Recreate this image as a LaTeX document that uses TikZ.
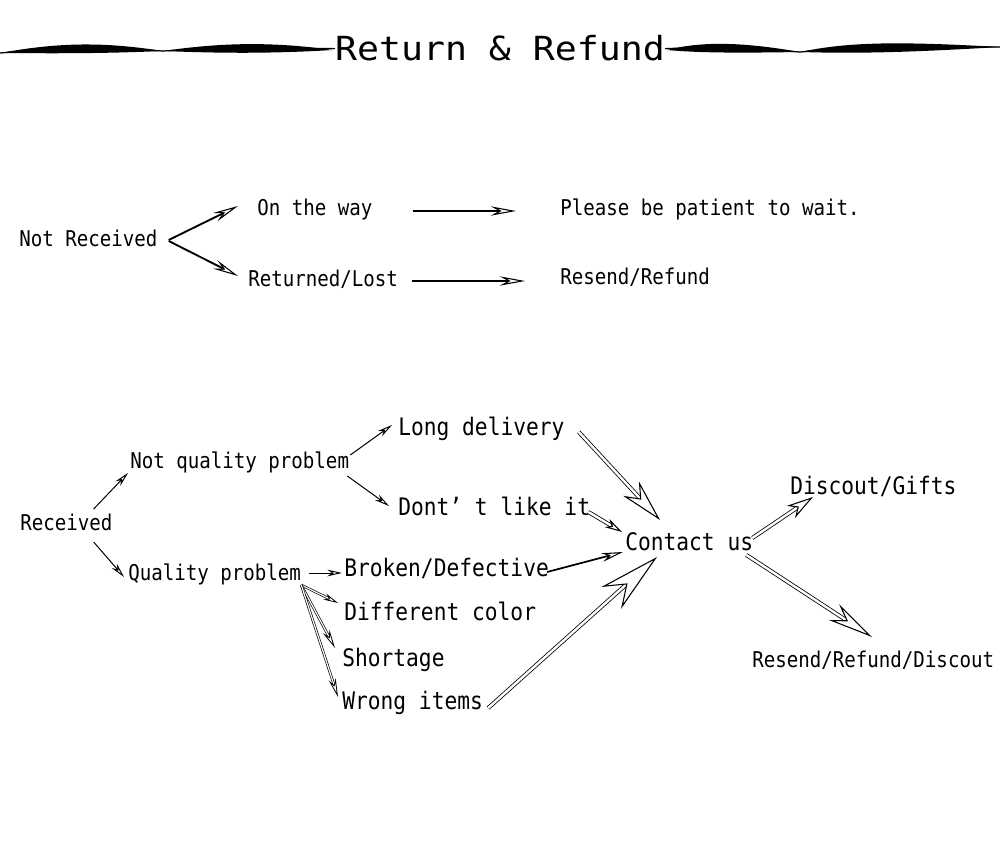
\documentclass[tikz,border=0pt]{standalone}
\usepackage{fontspec}
\usetikzlibrary{arrows.meta,calc}
\newfontfamily\monof[FakeStretch=0.88]{DejaVu Sans Mono}
\newfontfamily\titlef[FakeStretch=1.1]{DejaVu Sans Mono}
\begin{document}
\begin{tikzpicture}[x=0.75pt,y=-0.75pt,
  sm/.style={inner sep=0pt, anchor=base west, font=\monof\fontsize{16.3pt}{19pt}\selectfont},
  lg/.style={inner sep=0pt, anchor=base west, font=\monof\fontsize{18.1pt}{21pt}\selectfont},
  toparr/.style={line width=1.4pt, -{Stealth[open, length=19pt, width=7pt, inset=6.5pt, line width=0.8pt]}},
  thinarr/.style={line width=0.75pt, -{Stealth[open, length=11pt, width=5pt, inset=3.5pt, line width=0.7pt]}},
  onearr/.style={line width=1.3pt, -{Stealth[open, length=16pt, width=6.5pt, inset=5pt, line width=0.8pt]}},
  dblarr/.style n args={3}{double, line width=0.6pt, double distance=1.8pt,
     -{Stealth[open, fill=white, length=#1, width=#2, inset=#3, line width=0.8pt]}},
  thindbl/.style n args={3}{double, line width=0.5pt, double distance=0.9pt,
     -{Stealth[open, fill=white, length=#1, width=#2, inset=#3, line width=0.6pt]}},
  waveline/.style={line width=0.9pt}
]
\fill[white] (0,0) rectangle (1000,855);
\useasboundingbox (0,0) rectangle (1000,855);

% title and wavy rules
\node[inner sep=0pt, anchor=base, font=\titlef\fontsize{24.9pt}{28pt}\selectfont] (title) at (500,61) {Return \& Refund};
\fill (0,53) .. controls (60,42) and (105,42) .. (163,51) .. controls (105,53.5) and (60,53.5) .. (0,53) -- cycle;
\fill (163,51) .. controls (225,42) and (275,42) .. (333,50) .. controls (275,53.5) and (225,53.5) .. (163,51) -- cycle;
\draw[waveline] (0,53) .. controls (60,47.8) and (105,47.8) .. (163,51) .. controls (225,47.8) and (275,47.8) .. (title.west);
\fill (667,50) .. controls (700,41.5) and (740,41.5) .. (800,52) .. controls (740,53) and (700,53) .. (667,50) -- cycle;
\fill (800,52) .. controls (850,41.5) and (900,41.5) .. (1000,47) .. controls (900,53) and (850,53.5) .. (800,52) -- cycle;
\draw[waveline] (title.east) .. controls (700,47.3) and (740,47.3) .. (800,52) .. controls (850,47.3) and (900,47.3) .. (1000,47);

% top section
\node[sm] (nr) at (19,247) {Not Received};
\node[sm] (otw) at (257,216) {On the way};
\node[sm] (rl) at (248,287) {Returned/Lost};
\node[sm] (pat) at (560,216) {Please be patient to wait.};
\node[sm] (rr) at (560,285) {Resend/Refund};

\draw[toparr] ($(nr.base east)+(11,-7)$) -- ($(otw.base west)+(-19,-10)$);
\draw[toparr] ($(nr.base east)+(11,-6)$) -- ($(rl.base west)+(-10,-11)$);
\draw[toparr] ($(otw.base east)+(40,-5)$) -- ($(pat.base west)+(-44,-5)$);
\draw[toparr] ($(rl.base east)+(14,-6)$) -- ($(rr.base west)+(-35,-4)$);

% bottom section
\node[sm] (rec) at (20,530) {Received};
\node[sm] (nqp) at (130,469) {Not quality problem};
\node[sm] (qp) at (128,580) {Quality problem};
\node[lg] (ld) at (398,436) {Long delivery};
\node[lg] (dont) at (398,516) {Dont’ t like it};
\node[lg] (broken) at (344,576) {Broken/Defective};
\node[lg] (diff) at (344,620) {Different color};
\node[lg] (short) at (342,666) {Shortage};
\node[lg] (wrong) at (342,709) {Wrong items};
\node[lg] (cu) at (625,550) {Contact us};
\node[lg] (dg) at (790,495) {Discout/Gifts};
\node[sm] (rrd) at (752,667) {Resend/Refund/Discout};

\draw[thinarr] ($(rec.base east)+(-19,-21)$) -- ($(nqp.base west)+(-2,4)$);
\draw[thinarr] ($(rec.base east)+(-19,12)$) -- ($(qp.base west)+(-4,-3)$);
\draw[thinarr] ($(nqp.base east)+(1,-14)$) -- ($(ld.base west)+(-6,-11)$);
\draw[thinarr] ($(nqp.base east)+(-2,7)$) -- ($(dont.base west)+(-9,-10)$);
\draw[thinarr] ($(qp.base east)+(8,-7)$) -- ($(broken.base west)+(-2,-3)$);
\draw[thindbl={11pt}{5pt}{3.5pt}] ($(qp.base east)+(0,5)$) -- ($(diff.base west)+(-6,-17)$);
\draw[thindbl={14pt}{5.5pt}{4.5pt}] ($(qp.base east)+(0,5)$) -- ($(short.base west)+(-7,-18)$);
\draw[thindbl={14pt}{5.5pt}{4.5pt}] ($(qp.base east)+(0,5)$) -- ($(wrong.base west)+(-4,-12)$);

\draw[dblarr={32pt}{16pt}{10pt}] ($(ld.base east)+(14,-4)$) -- ($(cu.base west)+(35,-30)$);
\draw[dblarr={13pt}{7pt}{4pt}] ($(dont.base east)+(-2,-4)$) -- ($(cu.base west)+(-3,-18)$);
\draw[onearr] ($(broken.base east)+(-2,-4)$) -- ($(cu.base west)+(-2,2)$);
\draw[dblarr={46pt}{22pt}{15pt}] ($(wrong.base east)+(5,-1)$) -- ($(cu.base west)+(32,7)$);
\draw[dblarr={20pt}{11pt}{6pt}] ($(cu.base east)+(-1,-12)$) -- ($(dg.base west)+(23,2)$);
\draw[dblarr={34pt}{14pt}{11pt}] ($(cu.base east)+(-7,5)$) -- ($(rrd.base west)+(120,-30)$);
\end{tikzpicture}
\end{document}
